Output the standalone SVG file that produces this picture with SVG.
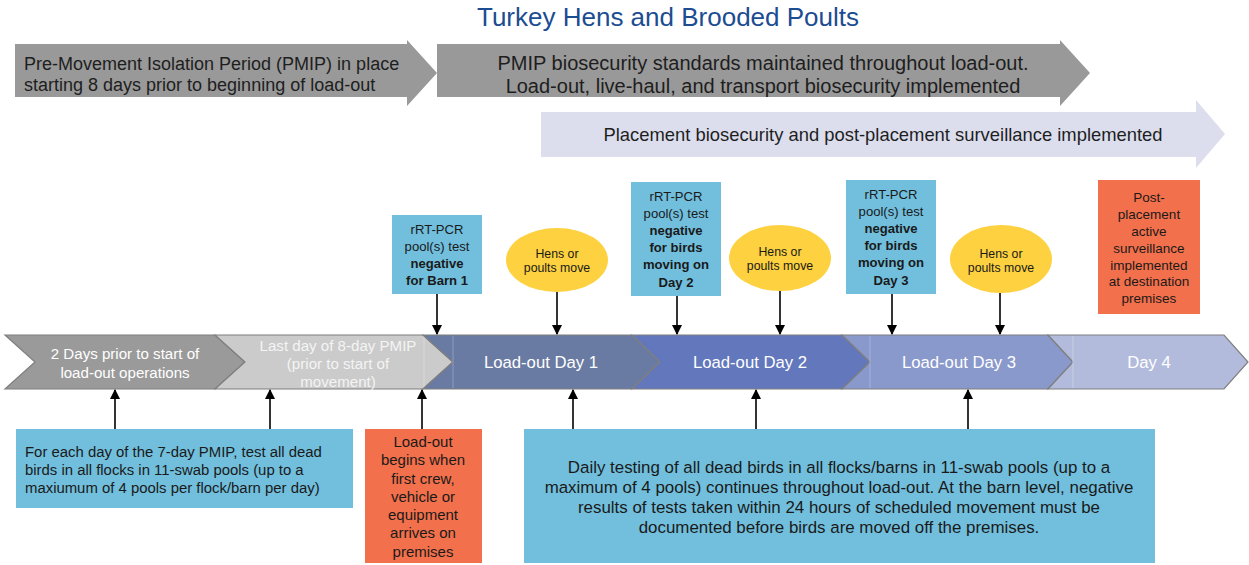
<svg xmlns="http://www.w3.org/2000/svg" width="1249" height="565" viewBox="0 0 1249 565">
<defs>
<marker id="ah" viewBox="0 0 10 10" refX="9" refY="5" markerWidth="10" markerHeight="10" markerUnits="userSpaceOnUse" orient="auto">
<path d="M0,0 L10,5 L0,10 z" fill="#000"/>
</marker>
<style>
text{font-family:"Liberation Sans",Arial,Helvetica,sans-serif}
.t{font-size:18px;fill:#1e1e1e}
.t2{font-size:20px;fill:#1e1e1e;text-anchor:middle}
.tl{font-size:16.7px;fill:#ffffff;text-anchor:middle}
.tg{font-size:15.1px;text-anchor:middle}
.bx{font-size:13.1px;fill:#1a1a1a;text-anchor:middle}
.pb{font-size:13.5px;fill:#1a1a1a;text-anchor:middle}
.ob{font-size:15px;fill:#1a1a1a;text-anchor:middle}
.b{font-weight:bold}
.el{font-size:12.3px;fill:#1a1a1a;text-anchor:middle}
.blue{fill:#71bfdd}
.orange{fill:#f2704b}
.yel{fill:#fdd13f}
.con line{stroke:#000;stroke-width:1.6;marker-end:url(#ah)}
.chev{stroke:#7f7f7f;stroke-width:1.2}
</style>
</defs>
<rect width="1249" height="565" fill="#fff"/>
<text x="668" y="26" font-size="26" fill="#1c4c92" text-anchor="middle">Turkey Hens and Brooded Poults</text>

<g id="arrow-pmip">
<path d="M15,44 H407 V40 L437,73 L407,106 V97 H15 Z" fill="#999999"/>
<text class="t" x="24" y="70">Pre-Movement Isolation Period (PMIP) in place</text>
<text class="t" x="24" y="91">starting 8 days prior to beginning of load-out</text>
</g>
<g id="arrow-loadout">
<path d="M437,44 H1060 V40 L1090,73 L1060,106 V97 H437 Z" fill="#999999"/>
<text class="t2" x="763" y="70">PMIP biosecurity standards maintained throughout load-out.</text>
<text class="t2" x="763" y="93">Load-out, live-haul, and transport biosecurity implemented</text>
</g>
<g id="arrow-placement">
<path d="M541,112 H1196 V100 L1225,134 L1196,168 V157 H541 Z" fill="#dcdeee"/>
<text x="883" y="141" font-size="18.4" fill="#1e1e1e" text-anchor="middle">Placement biosecurity and post-placement surveillance implemented</text>
</g>

<g id="timeline">
<g id="chev-prior">
<polygon class="chev" points="5,335 215,335 245,362 215,389 5,389 35,362" fill="#9a9a9a"/>
<text class="tg" x="125" y="359" fill="#ffffff">2 Days prior to start of</text>
<text class="tg" x="125" y="378" fill="#ffffff">load-out operations</text>
</g>
<g id="chev-lastday">
<polygon class="chev" points="215,335 423,335 453,362 423,389 215,389 245,362" fill="#cbcbcb"/>
<line x1="424" y1="336" x2="424" y2="388" stroke="#d9d9d9" stroke-width="1"/>
<text class="tg" x="338" y="351" fill="#f4f4f4">Last day of 8-day PMIP</text>
<text class="tg" x="338" y="369" fill="#f4f4f4">(prior to start of</text>
<text class="tg" x="338" y="387" fill="#f4f4f4">movement)</text>
</g>
<g id="chev-day1">
<polygon class="chev" points="423,335 632,335 660,362 632,389 423,389 453,362" fill="#6a7ba3"/>
<line x1="453" y1="336" x2="453" y2="388" stroke="#8d9bbb" stroke-width="1"/>
<text class="tl" x="541" y="368">Load-out Day 1</text>
</g>
<g id="chev-day2">
<polygon class="chev" points="632,335 842,335 870,362 842,389 632,389 660,362" fill="#6277bc"/>
<text class="tl" x="750" y="368">Load-out Day 2</text>
</g>
<g id="chev-day3">
<polygon class="chev" points="842,335 1048,335 1073,362 1048,389 842,389 870,362" fill="#8a99cc"/>
<line x1="870" y1="336" x2="870" y2="388" stroke="#a6b1db" stroke-width="1"/>
<text class="tl" x="959" y="368">Load-out Day 3</text>
</g>
<g id="chev-day4">
<polygon class="chev" points="1048,335 1224,335 1248,362 1224,389 1048,389 1073,362" fill="#b2bbdc"/>
<line x1="1073" y1="336" x2="1073" y2="388" stroke="#c8cee6" stroke-width="1"/>
<text class="tl" x="1149" y="368">Day 4</text>
</g>
</g>

<g id="box-barn1">
<rect class="blue" x="392" y="215" width="90" height="79"/>
<text class="bx" x="437" y="234">rRT-PCR</text>
<text class="bx" x="437" y="251">pool(s) test</text>
<text class="bx b" x="437" y="268">negative</text>
<text class="bx b" x="437" y="285">for Barn 1</text>
</g>
<g id="move1">
<ellipse class="yel" cx="557" cy="260" rx="51" ry="32"/>
<text class="el" x="557" y="258">Hens or</text>
<text class="el" x="557" y="272">poults move</text>
</g>
<g id="box-day2">
<rect class="blue" x="631" y="182" width="90" height="114"/>
<text class="bx" x="676" y="201">rRT-PCR</text>
<text class="bx" x="676" y="218">pool(s) test</text>
<text class="bx b" x="676" y="235">negative</text>
<text class="bx b" x="676" y="252">for birds</text>
<text class="bx b" x="676" y="269">moving on</text>
<text class="bx b" x="676" y="287">Day 2</text>
</g>
<g id="move2">
<ellipse class="yel" cx="780" cy="258" rx="51" ry="33"/>
<text class="el" x="780" y="256">Hens or</text>
<text class="el" x="780" y="270">poults move</text>
</g>
<g id="box-day3">
<rect class="blue" x="846" y="180" width="90" height="114"/>
<text class="bx" x="891" y="199">rRT-PCR</text>
<text class="bx" x="891" y="216">pool(s) test</text>
<text class="bx b" x="891" y="233">negative</text>
<text class="bx b" x="891" y="250">for birds</text>
<text class="bx b" x="891" y="267">moving on</text>
<text class="bx b" x="891" y="285">Day 3</text>
</g>
<g id="move3">
<ellipse class="yel" cx="1001" cy="259" rx="51" ry="34"/>
<text class="el" x="1001" y="258">Hens or</text>
<text class="el" x="1001" y="272">poults move</text>
</g>
<g id="box-postplacement">
<rect class="orange" x="1098" y="180" width="102" height="134"/>
<text class="pb" x="1149" y="202">Post-</text>
<text class="pb" x="1149" y="219">placement</text>
<text class="pb" x="1149" y="236">active</text>
<text class="pb" x="1149" y="253">surveillance</text>
<text class="pb" x="1149" y="270">implemented</text>
<text class="pb" x="1149" y="286">at destination</text>
<text class="pb" x="1149" y="303">premises</text>
</g>

<g id="box-pmip-testing">
<rect class="blue" x="16" y="429" width="337" height="79"/>
<text x="25" y="457" font-size="14.9" fill="#1a1a1a">For each day of the 7-day PMIP, test all dead</text>
<text x="25" y="475" font-size="14.9" fill="#1a1a1a">birds in all flocks in 11-swab pools (up to a</text>
<text x="25" y="493" font-size="14.9" fill="#1a1a1a">maxiumum of 4 pools per flock/barn per day)</text>
</g>
<g id="box-loadout-begins">
<rect class="orange" x="365" y="429" width="117" height="134"/>
<text class="ob" x="423" y="447">Load-out</text>
<text class="ob" x="423" y="465">begins when</text>
<text class="ob" x="423" y="484">first crew,</text>
<text class="ob" x="423" y="502">vehicle or</text>
<text class="ob" x="423" y="520">equipment</text>
<text class="ob" x="423" y="538">arrives on</text>
<text class="ob" x="423" y="557">premises</text>
</g>
<g id="box-daily-testing">
<rect class="blue" x="524" y="429" width="631" height="134"/>
<text x="839" y="473" font-size="16.9" fill="#1a1a1a" text-anchor="middle">Daily testing of all dead birds in all flocks/barns in 11-swab pools (up to a</text>
<text x="839" y="493" font-size="16.9" fill="#1a1a1a" text-anchor="middle">maximum of 4 pools) continues throughout load-out. At the barn level, negative</text>
<text x="839" y="513" font-size="16.9" fill="#1a1a1a" text-anchor="middle">results of tests taken within 24 hours of scheduled movement must be</text>
<text x="839" y="533" font-size="16.9" fill="#1a1a1a" text-anchor="middle">documented before birds are moved off the premises.</text>
</g>

<g id="connectors" class="con">
<line x1="437" y1="294" x2="437" y2="334"/>
<line x1="557" y1="292" x2="557" y2="334"/>
<line x1="677" y1="296" x2="677" y2="334"/>
<line x1="780" y1="291" x2="780" y2="334"/>
<line x1="892" y1="294" x2="892" y2="334"/>
<line x1="1000" y1="293" x2="1000" y2="334"/>
<line x1="115" y1="429" x2="115" y2="390"/>
<line x1="270" y1="429" x2="270" y2="390"/>
<line x1="422" y1="429" x2="422" y2="390"/>
<line x1="573" y1="429" x2="573" y2="390"/>
<line x1="756" y1="429" x2="756" y2="390"/>
<line x1="968" y1="429" x2="968" y2="390"/>
</g>
</svg>
